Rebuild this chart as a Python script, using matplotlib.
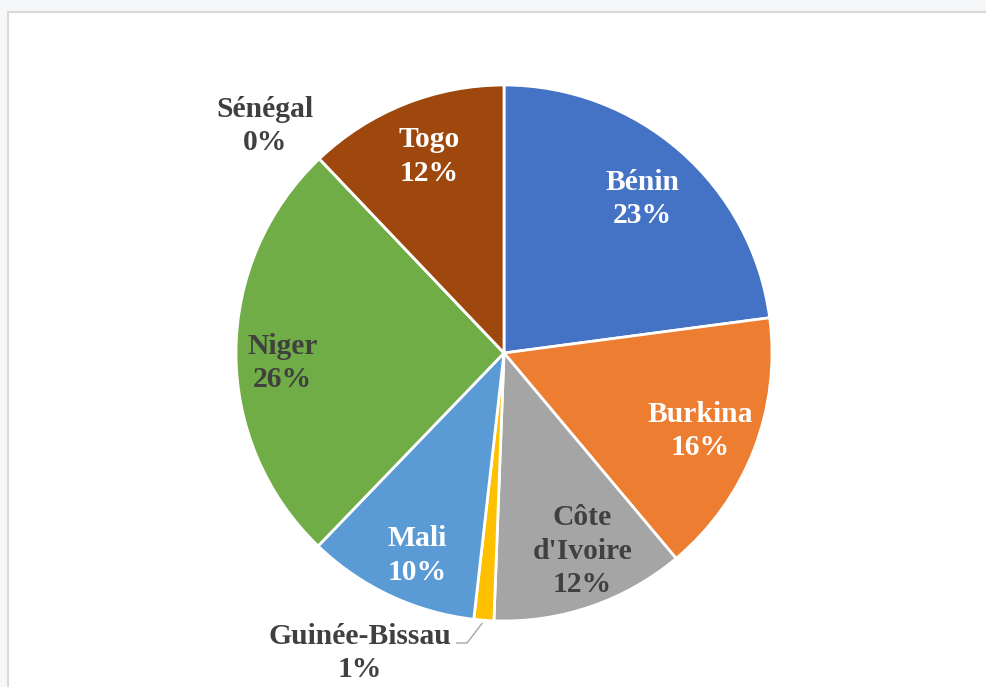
import matplotlib
matplotlib.use("Agg")
import matplotlib.pyplot as plt
import numpy as np
from matplotlib.patches import Rectangle

countries = ["Bénin", "Burkina", "Côte\nd'Ivoire", "Guinée-Bissau", "Mali", "Niger", "Sénégal", "Togo"]
values = [22.9, 16.0, 11.7, 1.2, 10.4, 25.7, 0.0, 12.1]
pct_labels = ["23%", "16%", "12%", "1%", "10%", "26%", "0%", "12%"]
colors = ["#4472C4", "#ED7D31", "#A5A5A5", "#FFC000", "#5B9BD5", "#70AD47", "#264478", "#9E480E"]
text_colors = ["white", "white", "#404040", "#404040", "white", "#404040", "#404040", "white"]

W, H = 986, 687
fig = plt.figure(figsize=(W / 100, H / 100), dpi=100)
fig.patch.set_facecolor("#f6f7f8")

# white chart area with thin gray frame
bg = Rectangle((8 / W, -0.1), 1.1, (H - 12) / H + 0.1, transform=fig.transFigure,
               facecolor="white", edgecolor="#d9d9d9", linewidth=1.5, zorder=-5)
fig.patches.append(bg)

cx, cy, r = 504, 353, 268
ax = fig.add_axes([(cx - r) / W, (H - cy - r) / H, 2 * r / W, 2 * r / H])
ax.set_zorder(2)
ax.patch.set_alpha(0)

wedges, _ = ax.pie(values, colors=colors, startangle=90, counterclock=False, radius=1.0,
                   wedgeprops=dict(edgecolor="white", linewidth=2.0), normalize=True)
ax.set_xlim(-1, 1)
ax.set_ylim(-1, 1)
ax.set_aspect("equal")
ax.axis("off")

font = dict(family=["Liberation Serif", "DejaVu Serif"], fontweight="bold", fontsize=21.3)
ls = 1.3

# small pixel nudges (dx right, dy down) for in-slice labels
nudge = {"Bénin": (0, 4), "Burkina": (0, 2), "Côte\nd'Ivoire": (10, -1), "Mali": (3, 12),
         "Niger": (-11, 11), "Togo": (3, -1)}

for i, w in enumerate(wedges):
    mid = np.deg2rad((w.theta1 + w.theta2) / 2)
    label = countries[i] + "\n" + pct_labels[i]
    if countries[i] == "Guinée-Bissau":
        tx, ty = (360 - cx) / r, (cy - 653) / r
        ax.text(tx, ty, label, ha="center", va="center", color=text_colors[i],
                linespacing=ls, clip_on=False, **font)
        px, py = np.cos(mid) * 1.0, np.sin(mid) * 1.0
        ax.plot([(456 - cx) / r, (467 - cx) / r, px - 0.005],
                [(cy - 643) / r, (cy - 643) / r, py - 0.01],
                color="#a6a6a6", linewidth=1.0, solid_capstyle="butt", clip_on=False)
    elif countries[i] == "Sénégal":
        tx, ty = (265 - cx) / r, (cy - 126) / r
        ax.text(tx, ty, label, ha="center", va="center", color=text_colors[i],
                linespacing=ls, clip_on=False, **font)
    else:
        d = 0.785
        ndx, ndy = nudge.get(countries[i], (0, 0))
        ax.text(d * np.cos(mid) + ndx / r, d * np.sin(mid) - ndy / r, label,
                ha="center", va="center", color=text_colors[i], linespacing=ls, **font)

fig.savefig("out.png", dpi=100, facecolor=fig.get_facecolor())
